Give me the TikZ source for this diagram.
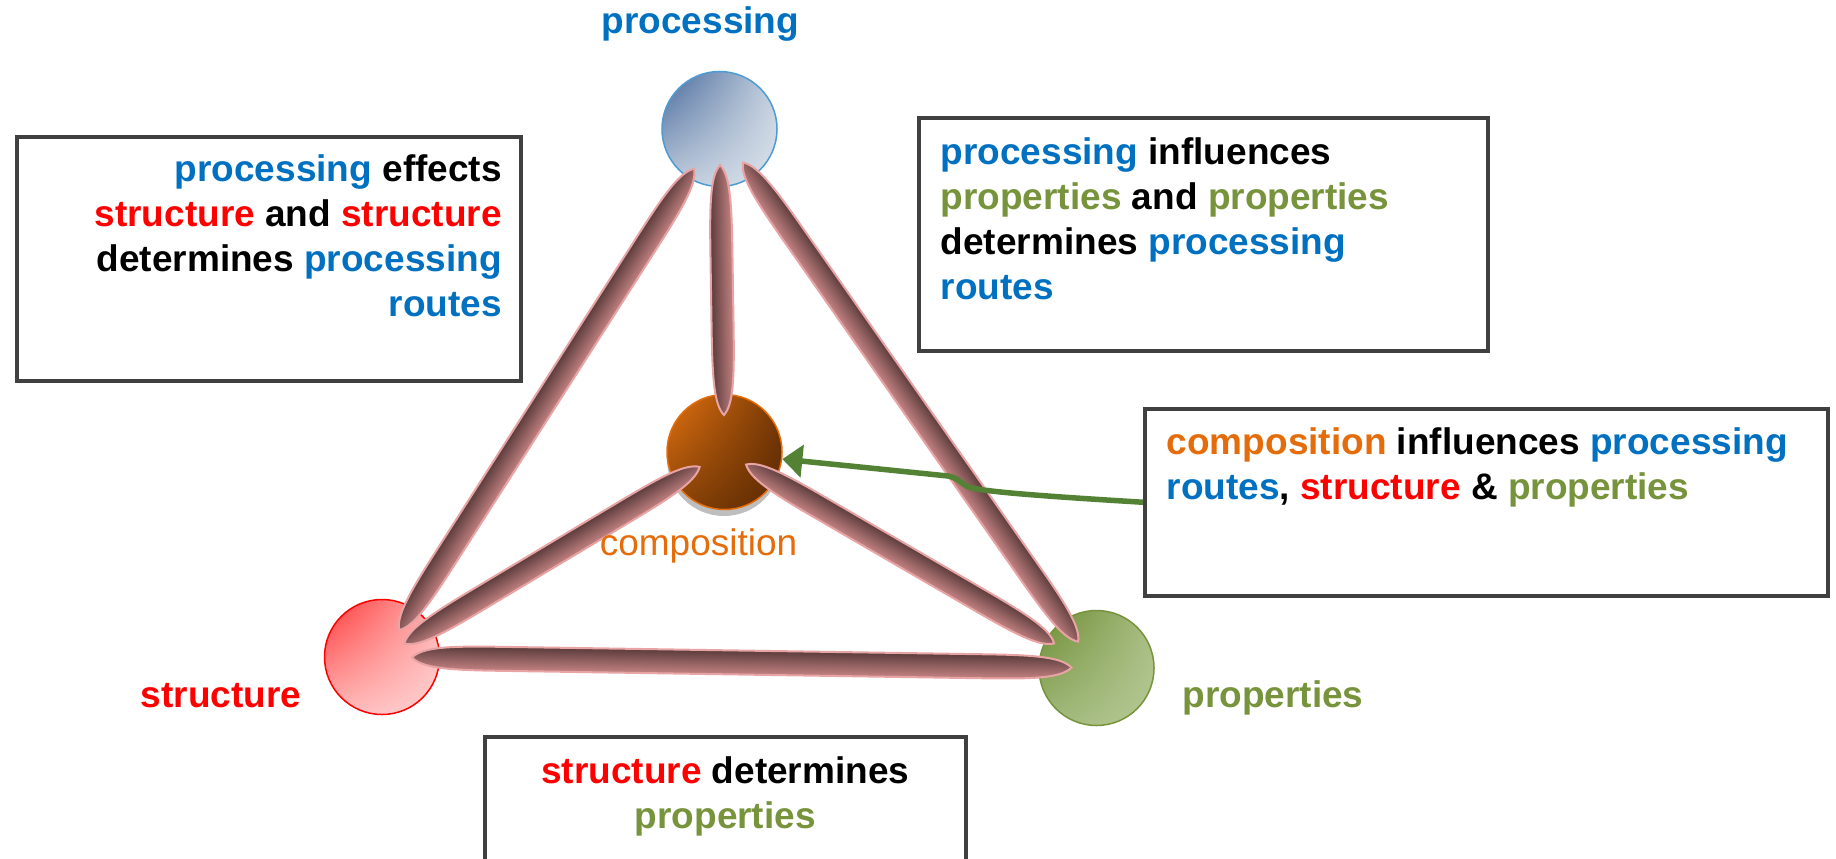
\documentclass[tikz,border=0pt]{standalone}
\usepackage{fontspec}
\setmainfont{Liberation Sans}
\usetikzlibrary{arrows.meta, shadings}

\definecolor{procblue}{RGB}{0,112,192}
\definecolor{structred}{RGB}{255,0,0}
\definecolor{propgreen}{RGB}{119,147,60}
\definecolor{comporange}{RGB}{228,108,10}
\definecolor{arrowgreen}{RGB}{84,130,53}
\definecolor{boxgray}{RGB}{64,64,64}
\definecolor{shadowgray}{RGB}{190,190,190}
\definecolor{roddark}{RGB}{92,60,60}
\definecolor{rodmid}{RGB}{118,80,80}
\definecolor{rodpink}{RGB}{196,130,130}
\definecolor{rodedge}{RGB}{232,164,164}
% sphere shades
\definecolor{procA}{RGB}{70,104,155}
\definecolor{procB}{RGB}{196,208,222}
\definecolor{procC}{RGB}{190,203,219}
\definecolor{procD}{RGB}{220,227,236}
\definecolor{compA}{RGB}{228,114,16}
\definecolor{compB}{RGB}{120,58,6}
\definecolor{compC}{RGB}{138,68,8}
\definecolor{compD}{RGB}{90,40,2}
\definecolor{structA}{RGB}{255,55,55}
\definecolor{structB}{RGB}{255,178,178}
\definecolor{structC}{RGB}{255,185,185}
\definecolor{structD}{RGB}{255,210,210}
\definecolor{propA}{RGB}{108,140,50}
\definecolor{propB}{RGB}{168,189,130}
\definecolor{propC}{RGB}{160,184,122}
\definecolor{propD}{RGB}{182,201,150}

\newcommand{\cproc}[1]{\textcolor{procblue}{#1}}
\newcommand{\cstruct}[1]{\textcolor{structred}{#1}}
\newcommand{\cprop}[1]{\textcolor{propgreen}{#1}}
\newcommand{\ccomp}[1]{\textcolor{comporange}{#1}}

% rod between two spheres: from, to, cut at from, cut at to, half width
\newcommand{\drawrod}[5]{%
  \pgfpointdiff{\pgfpointanchor{#1}{center}}{\pgfpointanchor{#2}{center}}%
  \pgfgetlastxy{\rodx}{\rody}%
  \pgfmathsetmacro{\rodang}{atan2(\rody,\rodx)}%
  \pgfmathsetmacro{\rodlen}{veclen(\rodx,\rody)}%
  \pgfmathsetmacro{\rodA}{#3}%
  \pgfmathsetmacro{\rodB}{\rodlen-#4}%
  \pgfmathsetmacro{\rodAa}{\rodA+10}\pgfmathsetmacro{\rodAb}{\rodA+35}\pgfmathsetmacro{\rodAc}{\rodA+85}%
  \pgfmathsetmacro{\rodBa}{\rodB-10}\pgfmathsetmacro{\rodBb}{\rodB-35}\pgfmathsetmacro{\rodBc}{\rodB-85}%
  \pgfmathsetmacro{\rodw}{#5}\pgfmathsetmacro{\rodv}{0.85*#5}%
  \begin{scope}[transform canvas={shift={(#1.center)}, rotate=\rodang}]
    \shade[rodfill] (\rodA pt,0pt)
      .. controls (\rodAa pt,\rodv pt) and (\rodAb pt,\rodw pt) .. (\rodAc pt,\rodw pt)
      -- (\rodBc pt,\rodw pt)
      .. controls (\rodBb pt,\rodw pt) and (\rodBa pt,\rodv pt) .. (\rodB pt,0pt)
      .. controls (\rodBa pt,-\rodv pt) and (\rodBb pt,-\rodw pt) .. (\rodBc pt,-\rodw pt)
      -- (\rodAc pt,-\rodw pt)
      .. controls (\rodAb pt,-\rodw pt) and (\rodAa pt,-\rodv pt) .. cycle;
  \end{scope}}

\tikzset{
  sphere/.style={circle, minimum size=115pt, inner sep=0pt, line width=1.5pt, shade,
    upper left=#1A, upper right=#1B, lower left=#1C, lower right=#1D},
  lbl/.style={anchor=base, font=\fontsize{37}{45}\selectfont\bfseries},
  txtbox/.style={draw=boxgray, line width=3.5pt, fill=white, anchor=north west,
    font=\fontsize{37}{45}\selectfont\bfseries},
  rodfill/.style={top color=roddark, middle color=rodmid, bottom color=rodpink,
    draw=rodedge, line width=2pt},
  link/.style={draw=arrowgreen, line width=5.5pt, -{Triangle[length=20pt,width=32pt]}}
}

\begin{document}
\begin{tikzpicture}[x=1pt, y=-1pt]
  \useasboundingbox (0,0) rectangle (1836,859);
  \clip (0,0) rectangle (1836,859);

  % the four spheres
  \fill[shadowgray] (724,459) circle[radius=57pt];
  \node[sphere=proc, draw=procblue!70!white] (proc) at (719.5,129) {};
  \node[sphere=comp, draw=comporange] (comp) at (724.5,452) {};
  \node[sphere=struct, draw=structred] (struct) at (382,657) {};
  \node[sphere=prop, draw=propgreen] (prop) at (1096.5,668) {};

  % rods
  \drawrod{struct}{proc}{32}{47}{11.5}
  \drawrod{comp}{proc}{37}{36}{11}
  \drawrod{proc}{prop}{41}{32}{11.5}
  \drawrod{struct}{comp}{26}{29}{11.5}
  \drawrod{comp}{prop}{25}{49}{11.5}
  \drawrod{struct}{prop}{30}{25}{12}

  % labels
  \node[lbl, text=procblue] (proclbl) at (700.5,34) {processing};
  \node[lbl, text=comporange, font=\fontsize{37}{45}\selectfont] (complbl) at (698.5,555) {composition};
  \node[lbl, text=structred] (structlbl) at (221,707) {structure};
  \node[lbl, text=propgreen] (proplbl) at (1273,707) {properties};

  % boxes
  \node[txtbox, inner xsep=19pt, inner ysep=18pt] (lbox) at (15,135)
    {\parbox[c][208pt][t]{466pt}{\raggedleft
      \cproc{processing} effects\\
      \cstruct{structure} and \cstruct{structure}\\
      determines \cproc{processing}\\
      \cproc{routes}}};
  \node[txtbox, inner xsep=22pt, inner ysep=20pt] (trbox) at (917,116)
    {\parbox[c][193pt][t]{525pt}{\raggedright
      \cproc{processing} influences\\
      \cprop{properties} and \cprop{properties}\\
      determines \cproc{processing}\\
      \cproc{routes}}};
  \node[txtbox, inner xsep=22pt, inner ysep=19pt] (rbox) at (1143,407)
    {\parbox[c][149pt][t]{639pt}{\raggedright
      \ccomp{composition} influences \cproc{processing}\\
      \cproc{routes}, \cstruct{structure} \& \cprop{properties}}};
  \node[txtbox, inner xsep=20pt, inner ysep=20pt] (bbox) at (483,735)
    {\parbox[c][110pt][t]{441pt}{\centering
      \cstruct{structure} determines\\
      \cprop{properties}}};

  % pointer to composition
  \draw[link] (rbox.west) .. controls (1040,496) and (990,492) .. (972,488)
    .. controls (962,486) and (960,478) .. (948,476) -- (comp.-7);
\end{tikzpicture}
\end{document}
